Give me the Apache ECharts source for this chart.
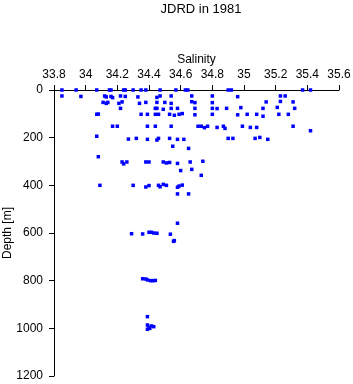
<!DOCTYPE html>
<html>
<head>
<meta charset="utf-8">
<script src="https://cdn.jsdelivr.net/npm/echarts@6/dist/echarts.min.js"></script>
<style>
html,body{margin:0;padding:0;background:#fff;}
#chart{width:353px;height:384px;}
</style>
</head>
<body>
<div id="chart"></div>
<script>
// Salinity values of the casts (x) and matching depths in m (y)
const salinity = [
  // surface
  33.85, 33.94, 34.07, 34.15, 34.16, 34.24, 34.25, 34.30, 34.35, 34.38, 34.47, 34.57, 34.63, 34.645, 34.90, 34.92, 35.37, 35.42,
  // ~25 m
  33.85, 33.97, 34.12, 34.13, 34.16, 34.17, 34.22, 34.25, 34.33, 34.45, 34.47, 34.54, 34.67, 34.80, 34.96, 35.23, 35.26,
  // ~50 m
  34.11, 34.13, 34.14, 34.21, 34.23, 34.34, 34.38, 34.45, 34.50, 34.54, 34.67, 34.69, 34.80, 35.14, 35.23, 35.31,
  // ~75 m
  34.22, 34.44, 34.45, 34.49, 34.54, 34.58, 34.69, 34.80, 34.83, 34.89, 34.98, 35.12, 35.21, 35.32,
  // ~100 m
  34.07, 34.08, 34.35, 34.39, 34.44, 34.46, 34.53, 34.56, 34.59, 34.61, 34.69, 34.80, 34.96, 35.02, 35.08, 35.12, 35.22, 35.28,
  // ~150 m
  34.17, 34.20, 34.39, 34.44, 34.54, 34.71, 34.73, 34.75, 34.77, 34.83, 34.87, 34.88, 34.99, 35.04, 35.08, 35.31, 35.42,
  // ~200 m
  34.07, 34.27, 34.32, 34.39, 34.45, 34.46, 34.53, 34.58, 34.62, 34.90, 34.93, 35.07, 35.10, 35.15, 34.55, 34.65, 34.08,
  // ~300 m
  34.23, 34.24, 34.26, 34.38, 34.40, 34.49, 34.51, 34.53, 34.58, 34.66, 34.74, 34.67, 34.73, 34.60,
  // ~400 m
  34.09, 34.30, 34.38, 34.40, 34.46, 34.47, 34.49, 34.51, 34.58, 34.59, 34.61, 34.58, 34.65,
  // ~600 m
  34.29, 34.36, 34.40, 34.415, 34.43, 34.45, 34.535, 34.58, 34.56, 34.555,
  // ~800 m
  34.36, 34.38, 34.39, 34.41, 34.425, 34.44,
  // ~1000 m
  34.39, 34.39, 34.40, 34.415, 34.43, 34.39, 34.405
];
const depth = [
  0, 0, 0, 0, 0, 0, 0, 0, 0, 0, 0, 0, 0, 0, 0, 0, 0, 0,
  25, 27, 25, 29, 27, 32, 25, 27, 29, 31, 25, 25, 25, 25, 28, 25, 25,
  52, 56, 52, 56, 50, 56, 52, 52, 52, 56, 49, 53, 53, 50, 48, 50,
  77, 77, 77, 81, 77, 77, 77, 77, 78, 77, 74, 77, 73, 77,
  102, 101, 102, 102, 102, 102, 102, 106, 102, 99, 104, 102, 104, 102, 102, 110, 102, 102,
  152, 152, 152, 152, 152, 152, 152, 158, 152, 157, 152, 161, 152, 157, 157, 152, 171,
  194, 206, 203, 207, 210, 203, 203, 207, 207, 203, 203, 203, 199, 207, 236, 245, 280,
  302, 310, 302, 302, 302, 302, 306, 304, 308, 302, 299, 333, 358, 338,
  400, 400, 407, 401, 400, 406, 396, 400, 408, 403, 399, 436, 436,
  603, 604, 597, 597, 600, 601, 605, 559, 632, 635,
  792, 793, 797, 800, 800, 799,
  951, 986, 996, 990, 993, 1004, 1000
];
const salinityTicks = [33.8, 34, 34.2, 34.4, 34.6, 34.8, 35, 35.2, 35.4, 35.6];
const depthTicks = [0, 200, 400, 600, 800, 1000, 1200];

const points = salinity.map((s, i) => [s, depth[i]]);
const font = 'Liberation Sans, Arial, sans-serif';

const chart = echarts.init(document.getElementById('chart'), null, {renderer: 'canvas'});
chart.setOption({
  animation: false,
  backgroundColor: '#fff',
  title: {
    text: 'JDRD in 1981',
    left: 196, top: -2, textAlign: 'center',
    textStyle: {fontFamily: font, fontSize: 13, fontWeight: 'normal', color: '#000'}
  },
  grid: {left: 54, right: 14, top: 90, bottom: 8, containLabel: false, outerBoundsMode: 'none'},
  xAxis: {
    type: 'value', position: 'top',
    min: salinityTicks[0], max: salinityTicks[salinityTicks.length - 1], interval: 0.2,
    name: 'Salinity', nameLocation: 'middle', nameGap: 24, nameMoveOverlap: false,
    nameTextStyle: {fontFamily: font, fontSize: 12, color: '#000'},
    axisLine: {show: true, lineStyle: {color: '#000', width: 1}},
    axisTick: {show: true, inside: false, length: 5, lineStyle: {color: '#000'}},
    axisLabel: {fontFamily: font, fontSize: 12, color: '#000', margin: 9,
      formatter: v => String(Math.round(v * 10) / 10)},
    splitLine: {show: false}
  },
  yAxis: {
    type: 'value', inverse: true,
    min: depthTicks[0], max: depthTicks[depthTicks.length - 1], interval: 200,
    name: 'Depth [m]', nameLocation: 'middle', nameGap: 40, nameMoveOverlap: false,
    nameTextStyle: {fontFamily: font, fontSize: 12, color: '#000'},
    axisLine: {show: true, lineStyle: {color: '#000', width: 1}},
    axisTick: {show: true, inside: false, length: 5, lineStyle: {color: '#000'}},
    axisLabel: {fontFamily: font, fontSize: 12, color: '#000', margin: 11,
      formatter: v => String(v)},
    splitLine: {show: false}
  },
  series: [{
    type: 'scatter',
    data: points,
    symbol: 'rect',
    symbolSize: 3.5,
    itemStyle: {color: '#0000ff', opacity: 1}
  }]
});
</script>
</body>
</html>
